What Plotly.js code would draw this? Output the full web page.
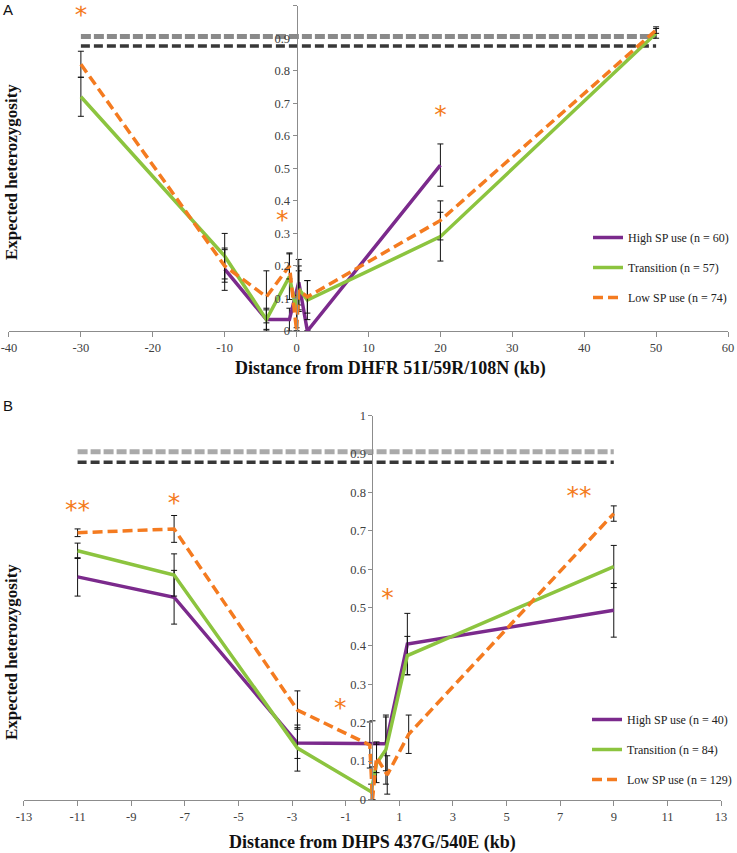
<!DOCTYPE html>
<html><head><meta charset="utf-8">
<script src="https://cdn.plot.ly/plotly-3.0.1.min.js"></script>
<style>body{margin:0;background:#fff}#chart{width:737px;height:853px}</style>
</head><body><div id="chart"></div>
<script>
// ---------- Panel A: DHFR ----------
const dhfrHighX  = [-10, -4.2, -1, 0.3, 1.5, 20];
const dhfrHighY  = [0.19, 0.035, 0.035, 0.15, 0.0, 0.51];
const dhfrHighErr= [0.065, 0.035, 0.035, 0.07, 0.0, 0.065];

const dhfrTransX  = [-30, -10, -4.2, -1, 0, 0.3, 1.5, 20, 50];
const dhfrTransY  = [0.72, 0.23, 0.035, 0.167, 0.06, 0.13, 0.095, 0.29, 0.915];
const dhfrTransErr= [0.06, 0.07, 0.03, 0.07, 0.05, 0.07, 0.06, 0.075, 0.015];

const dhfrLowX  = [-30, -10, -4.2, -1, 0, 0.3, 1.5, 20, 50];
const dhfrLowY  = [0.82, 0.2, 0.105, 0.2, 0.0, 0.125, 0.105, 0.34, 0.925];
const dhfrLowErr= [0.04, 0.05, 0.08, 0.04, 0.0, 0.06, 0.05, 0.06, 0.01];

const dhfrRefX = [-30, 50];
const dhfrRefHigh = [0.905, 0.905];
const dhfrRefLow  = [0.876, 0.876];

const dhfrStarX = [-30, -2, 20];
const dhfrStarY = [0.965, 0.335, 0.66];
const dhfrStarText = ['*', '*', '*'];

const dhfrLegend = ['High SP use (n = 60)', 'Transition (n = 57)', 'Low SP use (n = 74)'];
const dhfrTicks = [-40, -30, -20, -10, 0, 10, 20, 30, 40, 50, 60];

// ---------- Panel B: DHPS ----------
const dhpsHighX  = [-11, -7.4, -2.8, 0.0, 0.5, 1.3, 9];
const dhpsHighY  = [0.58, 0.527, 0.147, 0.145, 0.145, 0.405, 0.493];
const dhpsHighErr= [0.05, 0.07, 0.04, 0.06, 0.07, 0.08, 0.07];

const dhpsTransX  = [-11, -7.4, -2.8, -0.05, 0.15, 0.5, 1.3, 9];
const dhpsTransY  = [0.648, 0.585, 0.134, 0.02, 0.094, 0.13, 0.375, 0.607];
const dhpsTransErr= [0.02, 0.055, 0.06, 0.02, 0.05, 0.09, 0.05, 0.055];

const dhpsLowX  = [-11, -7.4, -2.8, -0.1, 0.0, 0.15, 0.55, 1.35, 9];
const dhpsLowY  = [0.695, 0.705, 0.233, 0.142, 0.0, 0.11, 0.064, 0.17, 0.745];
const dhpsLowErr= [0.01, 0.035, 0.05, 0.06, 0.0, 0.04, 0.05, 0.05, 0.02];

const dhpsRefX = [-11, 9];
const dhpsRefHigh = [0.906, 0.906];
const dhpsRefLow  = [0.879, 0.879];

const dhpsStarX = [-11, -7.4, -1.2, 0.56, 7.7];
const dhpsStarY = [0.75, 0.767, 0.234, 0.52, 0.785];
const dhpsStarText = ['**', '*', '*', '*', '**'];

const dhpsLegend = ['High SP use (n = 40)', 'Transition (n = 84)', 'Low SP use (n = 129)'];
const dhpsTicks = [-13, -11, -9, -7, -5, -3, -1, 1, 3, 5, 7, 9, 11, 13];

// ---------- styling ----------
const PURPLE = '#7B2A8C', GREEN = '#8CC43F', ORANGE = '#F47B20';
const SERIF = 'Liberation Serif, DejaVu Serif, serif';
const W = 737, H = 853;
const px = v => v / W, py = v => 1 - v / H;

function errSpec(arr) {
  return {type: 'data', array: arr, visible: true, color: '#111', thickness: 1, width: 3};
}
function series(x, y, err, name, color, dash, xa, ya, legend, group) {
  return {x, y, name, type: 'scatter', mode: 'lines', xaxis: xa, yaxis: ya,
    line: {color, width: 3.5, dash}, error_y: errSpec(err),
    legend, legendgroup: group, showlegend: true};
}
function refLine(x, y, color, width, dash, xa, ya) {
  return {x, y, type: 'scatter', mode: 'lines', xaxis: xa, yaxis: ya,
    line: {color, width, dash}, showlegend: false, hoverinfo: 'skip'};
}
function stars(x, y, t, xa, ya) {
  return {x, y, text: t, type: 'scatter', mode: 'text', xaxis: xa, yaxis: ya,
    textfont: {family: 'DejaVu Sans, sans-serif', size: 25, color: ORANGE},
    textposition: 'middle center', showlegend: false, hoverinfo: 'skip'};
}

const traces = [
  refLine(dhfrRefX, dhfrRefHigh, '#8a8a8a', 5, '10px,3px', 'x', 'y'),
  refLine(dhfrRefX, dhfrRefLow, '#383838', 3.5, '9px,4px', 'x', 'y'),
  series(dhfrHighX, dhfrHighY, dhfrHighErr, dhfrLegend[0], PURPLE, 'solid', 'x', 'y', 'legend', 'a1'),
  series(dhfrTransX, dhfrTransY, dhfrTransErr, dhfrLegend[1], GREEN, 'solid', 'x', 'y', 'legend', 'a2'),
  series(dhfrLowX, dhfrLowY, dhfrLowErr, dhfrLegend[2], ORANGE, '10px,5px', 'x', 'y', 'legend', 'a3'),
  stars(dhfrStarX, dhfrStarY, dhfrStarText, 'x', 'y'),

  refLine(dhpsRefX, dhpsRefHigh, '#aaaaaa', 5, '10px,3px', 'x2', 'y2'),
  refLine(dhpsRefX, dhpsRefLow, '#383838', 3.5, '9px,4px', 'x2', 'y2'),
  series(dhpsHighX, dhpsHighY, dhpsHighErr, dhpsLegend[0], PURPLE, 'solid', 'x2', 'y2', 'legend2', 'b1'),
  series(dhpsTransX, dhpsTransY, dhpsTransErr, dhpsLegend[1], GREEN, 'solid', 'x2', 'y2', 'legend2', 'b2'),
  series(dhpsLowX, dhpsLowY, dhpsLowErr, dhpsLegend[2], ORANGE, '10px,5px', 'x2', 'y2', 'legend2', 'b3'),
  stars(dhpsStarX, dhpsStarY, dhpsStarText, 'x2', 'y2')
];

const tickFont = {family: SERIF, size: 12.5, color: '#404040'};
function xAxis(domain, range, ticks, anchor) {
  return {domain, range, tickvals: ticks, ticktext: ticks.map(String), anchor,
    showline: true, linecolor: '#8c8c8c', linewidth: 1, ticks: 'outside', ticklen: 5,
    tickcolor: '#8c8c8c', showgrid: false, zeroline: false, tickfont: tickFont, fixedrange: true};
}
function yAxis(domain, position) {
  return {domain, range: [0, 1], anchor: 'free', position,
    tickvals: [0, 0.1, 0.2, 0.3, 0.4, 0.5, 0.6, 0.7, 0.8, 0.9, 1],
    ticktext: ['0', '0.1', '0.2', '0.3', '0.4', '0.5', '0.6', '0.7', '0.8', '0.9', '1'],
    showline: true, linecolor: '#8c8c8c', linewidth: 1, ticks: 'outside', ticklen: 4,
    tickcolor: '#8c8c8c', showgrid: false, zeroline: false, tickfont: tickFont, fixedrange: true};
}

const titleFont = {family: SERIF, size: 18, color: '#111'};
const yTitleFont = {family: SERIF, size: 17, color: '#111'};
function ann(text, x, y, font, extra) {
  return Object.assign({text, x: px(x), y: py(y), xref: 'paper', yref: 'paper',
    xanchor: 'center', yanchor: 'middle', showarrow: false, font}, extra || {});
}
const legendFont = {family: SERIF, size: 12, color: '#222'};
const layout = {
  width: W, height: H, autosize: false,
  margin: {l: 0, r: 0, t: 0, b: 0},
  paper_bgcolor: '#fff', plot_bgcolor: 'rgba(0,0,0,0)',
  showlegend: true,
  xaxis: xAxis([px(9), px(729)], [-40, 60], dhfrTicks, 'y'),
  yaxis: yAxis([py(331), py(5.7)], px(297)),
  xaxis2: xAxis([px(24), px(722)], [-13, 13], dhpsTicks, 'y2'),
  yaxis2: yAxis([py(799.5), py(415.7)], px(373)),
  legend: {x: px(588), y: py(223), xanchor: 'left', yanchor: 'top',
    font: legendFont, bgcolor: 'rgba(0,0,0,0)', tracegroupgap: 11, itemwidth: 30},
  legend2: {x: px(588), y: py(705), xanchor: 'left', yanchor: 'top',
    font: legendFont, bgcolor: 'rgba(0,0,0,0)', tracegroupgap: 11, itemwidth: 30},
  annotations: [
    ann('A', 8, 9, {family: 'Liberation Sans, Arial, sans-serif', size: 15, color: '#111'}),
    ann('B', 8, 406, {family: 'Liberation Sans, Arial, sans-serif', size: 15, color: '#111'}),
    ann('<b>Distance from DHFR 51I/59R/108N (kb)</b>', 391, 369, titleFont),
    ann('<b>Distance from DHPS 437G/540E (kb)</b>', 373, 842, titleFont),
    ann('<b>Expected heterozygosity</b>', 11, 172, yTitleFont, {textangle: -90}),
    ann('<b>Expected heterozygosity</b>', 11, 652, yTitleFont, {textangle: -90})
  ]
};

Plotly.newPlot('chart', traces, layout, {staticPlot: true, displayModeBar: false});
</script></body></html>
